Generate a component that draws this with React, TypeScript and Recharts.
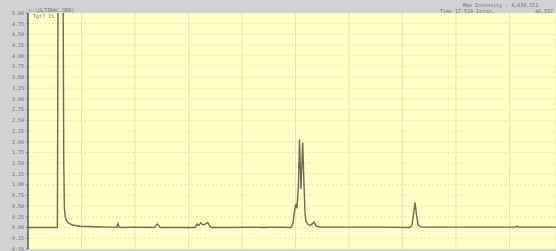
import React from "react";
import { LineChart, Line, XAxis, YAxis, CartesianGrid } from "recharts";

const times = [
  0.0, 0.22, 0.55, 0.565, 0.6, 0.63, 0.655, 0.668, 0.68, 0.695, 0.72, 0.76, 0.83, 0.97, 1.25,
  1.5, 1.66, 1.682, 1.7, 1.75, 2.0, 2.37, 2.4, 2.42, 2.45, 2.48, 2.8, 3.12, 3.16, 3.19, 3.23,
  3.27, 3.3, 3.36, 3.4, 3.44, 3.8, 4.2, 4.4, 4.6, 4.916, 4.953, 4.99, 5.009, 5.028, 5.056,
  5.075, 5.103, 5.135, 5.159, 5.178, 5.196, 5.234, 5.271, 5.308, 5.346, 5.383, 5.458, 6.0,
  6.6, 7.14, 7.178, 7.206, 7.234, 7.262, 7.29, 7.346, 8.0, 8.8, 9.1, 9.14, 9.18, 9.87,
];

const intensity = [
  0.0, 0.0, 0.0, 7.5, 6.9, 7.2, 6.0, 1.6, 0.45, 0.26, 0.16, 0.1, 0.06, 0.03, 0.02,
  0.01, 0.01, 0.09, 0.01, 0.0, 0.01, 0.0, 0.06, 0.08, 0.03, 0.0, 0.0, 0.0, 0.08, 0.05, 0.11,
  0.06, 0.07, 0.12, 0.03, 0.0, 0.0, 0.01, 0.0, 0.01, 0.0, 0.1, 0.45, 0.55, 0.45, 1.0,
  2.05, 0.9, 1.98, 1.0, 0.35, 0.15, 0.07, 0.05, 0.08, 0.13, 0.04, 0.01, 0.01,
  0.01, 0.0, 0.05, 0.3, 0.58, 0.3, 0.06, 0.01, 0.01, 0.01, 0.01, 0.03, 0.01, 0.01,
];

const yTicks = [
  -0.5, -0.25, 0, 0.25, 0.5, 0.75, 1, 1.25, 1.5, 1.75, 2, 2.25, 2.5, 2.75, 3, 3.25, 3.5,
  3.75, 4, 4.25, 4.5, 4.75, 5,
];
const xTicks = [1, 2, 3, 4, 5, 6, 7, 8, 9];

const data = times.map((t, i) => ({ t, v: intensity[i] }));

const mono = "'DejaVu Sans Mono', monospace";

const headerStyle: React.CSSProperties = {
  position: "absolute",
  fontFamily: mono,
  fontSize: 5,
  color: "#6a6a6a",
  whiteSpace: "nowrap",
  lineHeight: "5px",
};

export default function App() {
  return (
    <div
      style={{
        position: "absolute",
        left: 0,
        top: 0,
        width: 556,
        height: 251,
        background: "#d2d2d2",
        overflow: "hidden",
      }}
    >
      <LineChart
        width={556}
        height={251}
        data={data}
        margin={{ top: 13, right: 0, bottom: 2, left: 0 }}
      >
        <CartesianGrid
          horizontal={true}
          vertical={false}
          fill="#ffffc6"
          stroke="#e4e4ac"
          strokeDasharray="2 2"
        />
        <CartesianGrid horizontal={false} vertical={true} stroke="#e4e4b6" />
        <XAxis dataKey="t" type="number" domain={[0, 9.87]} ticks={xTicks} hide />
        <YAxis
          type="number"
          domain={[-0.5, 5]}
          ticks={yTicks}
          allowDataOverflow
          width={28}
          interval={0}
          tickFormatter={(v: number) => v.toFixed(2)}
          tick={{ fontSize: 5, fill: "#6a6a6a", fontFamily: mono }}
          tickLine={{ stroke: "#777" }}
          tickSize={2}
          axisLine={{ stroke: "#555", strokeWidth: 1.5 }}
        />
        <Line
          dataKey="v"
          type="linear"
          stroke="#6c6c52"
          strokeWidth={1.4}
          dot={false}
          isAnimationActive={false}
        />
      </LineChart>
      <div style={{ ...headerStyle, left: 29, top: 8 }}>c:\ULTIRAC.GRD)</div>
      <div style={{ ...headerStyle, left: 33, top: 14 }}>Tgt? 1%</div>
      <div style={{ ...headerStyle, left: 463, top: 3 }}>Max Intensity : 4,630,551</div>
      <div style={{ ...headerStyle, left: 440, top: 9 }}>Time 17.519 Intsn.</div>
      <div style={{ ...headerStyle, left: 535, top: 9 }}>46,557</div>
    </div>
  );
}
